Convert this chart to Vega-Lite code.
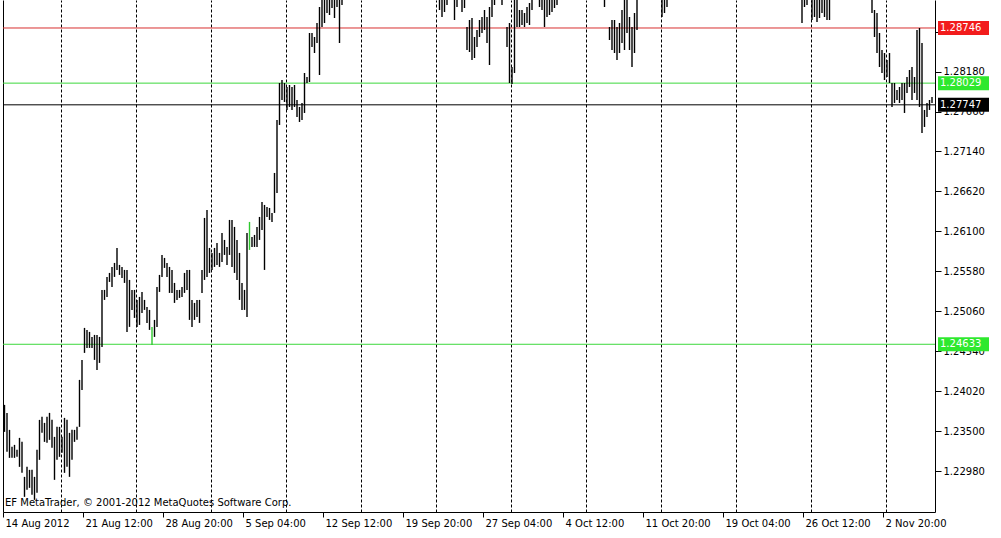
{
  "$schema": "https://vega.github.io/schema/vega-lite/v6.json",
  "width": 932,
  "height": 512,
  "autosize": {"type": "none"},
  "padding": {"left": 3, "top": 0, "right": 66, "bottom": 26},
  "background": "white",
  "config": {
    "view": {"stroke": null},
    "font": "DejaVu Sans",
    "axis": {"labelFont": "DejaVu Sans", "labelColor": "#000", "domainColor": "#000", "tickColor": "#000", "title": null}
  },
  "datasets": {
    "bars": [
      {"i":0,"hi":1.23845,"lo":1.23494},{"i":1,"hi":1.23741,"lo":1.23234},{"i":2,"hi":1.2352,"lo":1.23156},{"i":3,"hi":1.23299,"lo":1.23156},{"i":4,"hi":1.23325,"lo":1.23156},{"i":5,"hi":1.2326,"lo":1.23169},{"i":6,"hi":1.23416,"lo":1.23039},{"i":7,"hi":1.23364,"lo":1.22961},{"i":8,"hi":1.22909,"lo":1.22649},{"i":9,"hi":1.23039,"lo":1.2274},
      {"i":10,"hi":1.23,"lo":1.22766},{"i":11,"hi":1.23,"lo":1.22675},{"i":12,"hi":1.22909,"lo":1.2261},{"i":13,"hi":1.2326,"lo":1.22701},{"i":14,"hi":1.2365,"lo":1.2313},{"i":15,"hi":1.23689,"lo":1.23481},{"i":16,"hi":1.23611,"lo":1.23364},{"i":17,"hi":1.23689,"lo":1.23351},{"i":18,"hi":1.23741,"lo":1.2339},{"i":19,"hi":1.2365,"lo":1.23286},
      {"i":20,"hi":1.23429,"lo":1.2287},{"i":21,"hi":1.23559,"lo":1.2313},{"i":22,"hi":1.23559,"lo":1.23169},{"i":23,"hi":1.23429,"lo":1.23221},{"i":24,"hi":1.23676,"lo":1.22961},{"i":25,"hi":1.2365,"lo":1.23039},{"i":26,"hi":1.23481,"lo":1.22909},{"i":27,"hi":1.2352,"lo":1.2313},{"i":28,"hi":1.2352,"lo":1.23364},{"i":29,"hi":1.23559,"lo":1.2339},
      {"i":30,"hi":1.2417,"lo":1.23559},{"i":31,"hi":1.2443,"lo":1.2404},{"i":32,"hi":1.24846,"lo":1.24521},{"i":33,"hi":1.2482,"lo":1.24586},{"i":34,"hi":1.24794,"lo":1.24586},{"i":35,"hi":1.24729,"lo":1.24586},{"i":36,"hi":1.24755,"lo":1.2443},{"i":37,"hi":1.24755,"lo":1.243},{"i":38,"hi":1.24729,"lo":1.24391},{"i":39,"hi":1.2534,"lo":1.24599},
      {"i":40,"hi":1.2534,"lo":1.2521},{"i":41,"hi":1.25509,"lo":1.25249},{"i":42,"hi":1.25561,"lo":1.25444},{"i":43,"hi":1.25639,"lo":1.25379},{"i":44,"hi":1.25691,"lo":1.25509},{"i":45,"hi":1.25886,"lo":1.256},{"i":46,"hi":1.25665,"lo":1.25535},{"i":47,"hi":1.25639,"lo":1.25496},{"i":48,"hi":1.256,"lo":1.25431},{"i":49,"hi":1.256,"lo":1.24794},
      {"i":50,"hi":1.2547,"lo":1.24859},{"i":51,"hi":1.2534,"lo":1.2508},{"i":52,"hi":1.2534,"lo":1.24976},{"i":53,"hi":1.2521,"lo":1.24859},{"i":54,"hi":1.25249,"lo":1.24885},{"i":55,"hi":1.25314,"lo":1.25041},{"i":56,"hi":1.2521,"lo":1.2508},{"i":57,"hi":1.25119,"lo":1.24911},{"i":58,"hi":1.2508,"lo":1.2482},{"i":59,"hi":1.24859,"lo":1.24625,"doji":true},
      {"i":60,"hi":1.2495,"lo":1.24729},{"i":61,"hi":1.25379,"lo":1.24859},{"i":62,"hi":1.25535,"lo":1.25314},{"i":63,"hi":1.25795,"lo":1.25509},{"i":64,"hi":1.25756,"lo":1.25626},{"i":65,"hi":1.25691,"lo":1.25509},{"i":66,"hi":1.25639,"lo":1.25301},{"i":67,"hi":1.256,"lo":1.25301},{"i":68,"hi":1.25431,"lo":1.25171},{"i":69,"hi":1.2534,"lo":1.2521},
      {"i":70,"hi":1.2534,"lo":1.25236},{"i":71,"hi":1.25379,"lo":1.25249},{"i":72,"hi":1.25561,"lo":1.25301},{"i":73,"hi":1.256,"lo":1.2534},{"i":74,"hi":1.256,"lo":1.2495},{"i":75,"hi":1.2521,"lo":1.24859},{"i":76,"hi":1.25171,"lo":1.2495},{"i":77,"hi":1.2521,"lo":1.24989},{"i":78,"hi":1.2521,"lo":1.24911},{"i":79,"hi":1.256,"lo":1.25301},
      {"i":80,"hi":1.26276,"lo":1.2547},{"i":81,"hi":1.2638,"lo":1.25509},{"i":82,"hi":1.25886,"lo":1.25561},{"i":83,"hi":1.25821,"lo":1.256},{"i":84,"hi":1.25886,"lo":1.25639},{"i":85,"hi":1.25951,"lo":1.25665},{"i":86,"hi":1.25821,"lo":1.25639},{"i":87,"hi":1.26081,"lo":1.25704},{"i":88,"hi":1.2599,"lo":1.25795},{"i":89,"hi":1.25899,"lo":1.25665},
      {"i":90,"hi":1.2625,"lo":1.25795},{"i":91,"hi":1.2625,"lo":1.25639},{"i":92,"hi":1.26159,"lo":1.25561},{"i":93,"hi":1.2599,"lo":1.2547},{"i":94,"hi":1.25821,"lo":1.2521},{"i":95,"hi":1.25431,"lo":1.2508},{"i":96,"hi":1.2534,"lo":1.2508},{"i":97,"hi":1.26081,"lo":1.24989},{"i":98,"hi":1.26224,"lo":1.2586,"doji":true},{"i":99,"hi":1.26029,"lo":1.25899},
      {"i":100,"hi":1.26055,"lo":1.25899},{"i":101,"hi":1.26159,"lo":1.25899},{"i":102,"hi":1.26289,"lo":1.2599},{"i":103,"hi":1.26484,"lo":1.2612},{"i":104,"hi":1.26445,"lo":1.256},{"i":105,"hi":1.26419,"lo":1.26289},{"i":106,"hi":1.26406,"lo":1.2625},{"i":107,"hi":1.26341,"lo":1.26224},{"i":108,"hi":1.26861,"lo":1.26341},{"i":109,"hi":1.2755,"lo":1.26601},
      {"i":110,"hi":1.28031,"lo":1.27485},{"i":111,"hi":1.2807,"lo":1.2781},{"i":112,"hi":1.28031,"lo":1.27784},{"i":113,"hi":1.27979,"lo":1.2768},{"i":114,"hi":1.28005,"lo":1.27719},{"i":115,"hi":1.27979,"lo":1.2768},{"i":116,"hi":1.28005,"lo":1.27719},{"i":117,"hi":1.2781,"lo":1.27589},{"i":118,"hi":1.27719,"lo":1.27524},{"i":119,"hi":1.27771,"lo":1.2755},
      {"i":120,"hi":1.28161,"lo":1.27641},{"i":121,"hi":1.28109,"lo":1.28031},{"i":122,"hi":1.28681,"lo":1.28044},{"i":123,"hi":1.28681,"lo":1.28499},{"i":124,"hi":1.28629,"lo":1.28421},{"i":125,"hi":1.28811,"lo":1.28551},{"i":126,"hi":1.29019,"lo":1.28135},{"i":127,"hi":1.2922,"lo":1.28759},{"i":128,"hi":1.2921,"lo":1.28811},{"i":129,"hi":1.292,"lo":1.28941},
      {"i":130,"hi":1.2922,"lo":1.28915},{"i":131,"hi":1.2921,"lo":1.29006},{"i":132,"hi":1.2922,"lo":1.28876},{"i":133,"hi":1.292,"lo":1.29019},{"i":134,"hi":1.2921,"lo":1.28551},{"i":135,"hi":1.292,"lo":1.29045},
      {"i":174,"hi":1.2922,"lo":1.2898},{"i":175,"hi":1.2921,"lo":1.28889},{"i":176,"hi":1.2922,"lo":1.28954},{"i":177,"hi":1.292,"lo":1.29045},{"i":180,"hi":1.2922,"lo":1.2885},{"i":181,"hi":1.292,"lo":1.29019},{"i":183,"hi":1.2921,"lo":1.28954},{"i":184,"hi":1.292,"lo":1.29006},
      {"i":185,"hi":1.28759,"lo":1.2846},{"i":186,"hi":1.2885,"lo":1.28434},{"i":187,"hi":1.28876,"lo":1.2833},{"i":188,"hi":1.28629,"lo":1.28356},{"i":189,"hi":1.2872,"lo":1.28499},{"i":190,"hi":1.2885,"lo":1.28629},{"i":191,"hi":1.28889,"lo":1.28681},{"i":192,"hi":1.2898,"lo":1.2872},{"i":193,"hi":1.28889,"lo":1.28551},{"i":194,"hi":1.29019,"lo":1.28265},
      {"i":195,"hi":1.292,"lo":1.28889},{"i":196,"hi":1.292,"lo":1.29045},{"i":199,"hi":1.292,"lo":1.29045},{"i":201,"hi":1.28759,"lo":1.28499},{"i":202,"hi":1.28811,"lo":1.28031},{"i":203,"hi":1.28239,"lo":1.28018},{"i":204,"hi":1.29175,"lo":1.28161},
      {"i":205,"hi":1.292,"lo":1.28759},{"i":206,"hi":1.2898,"lo":1.28759},{"i":207,"hi":1.2898,"lo":1.28785},{"i":208,"hi":1.28941,"lo":1.28759},{"i":209,"hi":1.29019,"lo":1.28811},{"i":210,"hi":1.29071,"lo":1.28785},{"i":211,"hi":1.292,"lo":1.2898},
      {"i":214,"hi":1.292,"lo":1.29019},{"i":215,"hi":1.292,"lo":1.2898},{"i":216,"hi":1.292,"lo":1.28759},{"i":217,"hi":1.292,"lo":1.28889},{"i":218,"hi":1.292,"lo":1.28915},{"i":219,"hi":1.292,"lo":1.28954},{"i":220,"hi":1.292,"lo":1.29006},{"i":221,"hi":1.292,"lo":1.29045},
      {"i":240,"hi":1.292,"lo":1.29019},{"i":242,"hi":1.28759,"lo":1.2859},{"i":243,"hi":1.2885,"lo":1.2846},{"i":244,"hi":1.2885,"lo":1.28421},{"i":245,"hi":1.28759,"lo":1.2833},{"i":246,"hi":1.28811,"lo":1.28421},{"i":247,"hi":1.2898,"lo":1.28551},{"i":248,"hi":1.292,"lo":1.2846},{"i":249,"hi":1.292,"lo":1.28681},
      {"i":250,"hi":1.28889,"lo":1.2846},{"i":251,"hi":1.28759,"lo":1.28239},{"i":252,"hi":1.28941,"lo":1.28421},{"i":253,"hi":1.292,"lo":1.2872},{"i":263,"hi":1.292,"lo":1.28889},{"i":264,"hi":1.292,"lo":1.28941},{"i":265,"hi":1.292,"lo":1.29019},
      {"i":319,"hi":1.292,"lo":1.28811},{"i":320,"hi":1.292,"lo":1.29019},{"i":321,"hi":1.292,"lo":1.29045},{"i":323,"hi":1.292,"lo":1.2885},{"i":324,"hi":1.292,"lo":1.28889},{"i":325,"hi":1.292,"lo":1.28824},{"i":326,"hi":1.292,"lo":1.28876},{"i":327,"hi":1.292,"lo":1.28941},{"i":328,"hi":1.292,"lo":1.28889},{"i":329,"hi":1.292,"lo":1.2885},{"i":330,"hi":1.292,"lo":1.2885},
      {"i":347,"hi":1.292,"lo":1.28941},{"i":348,"hi":1.2898,"lo":1.28629},{"i":349,"hi":1.28941,"lo":1.28421},{"i":350,"hi":1.28681,"lo":1.28239},{"i":351,"hi":1.2846,"lo":1.28161},{"i":352,"hi":1.28421,"lo":1.2807},{"i":353,"hi":1.2833,"lo":1.28109},{"i":354,"hi":1.28421,"lo":1.28031},
      {"i":355,"hi":1.28031,"lo":1.27719},{"i":356,"hi":1.28031,"lo":1.27771},{"i":357,"hi":1.2794,"lo":1.2781},{"i":358,"hi":1.27979,"lo":1.27771},{"i":359,"hi":1.28031,"lo":1.2781},{"i":360,"hi":1.28031,"lo":1.27641},{"i":361,"hi":1.28109,"lo":1.27901},{"i":362,"hi":1.282,"lo":1.27979},{"i":363,"hi":1.28239,"lo":1.2781},{"i":364,"hi":1.28109,"lo":1.27901},
      {"i":365,"hi":1.2872,"lo":1.2781},{"i":366,"hi":1.28746,"lo":1.27719},{"i":367,"hi":1.28551,"lo":1.2738},{"i":368,"hi":1.2768,"lo":1.27459},{"i":369,"hi":1.27771,"lo":1.27589},{"i":370,"hi":1.2781,"lo":1.2768},{"i":371,"hi":1.27849,"lo":1.27771}
    ],
    "levels": [
      {"level": "Resistance", "price": 1.28746},
      {"level": "Support 1", "price": 1.28029},
      {"level": "Bid", "price": 1.27747},
      {"level": "Support 2", "price": 1.24633}
    ],
    "notes": [
      {"note": "EF MetaTrader, © 2001-2012 MetaQuotes Software Corp."}
    ]
  },
  "resolve": {"axis": {"x": "independent", "y": "independent"}, "scale": {"color": "independent"}},
  "layer": [
    {
      "data": {"name": "notes"},
      "mark": {"type": "text", "align": "left", "baseline": "middle", "fontSize": 10, "font": "DejaVu Sans", "color": "#000"},
      "encoding": {
        "x": {"datum": 0.2, "type": "quantitative", "scale": {"domain": [-0.6, 372.2], "nice": false, "zero": false},
          "axis": {"orient": "top", "values": [22.6, 52.6, 82.6, 112.6, 142.6, 172.6, 202.6, 232.6, 262.6, 292.6, 322.6, 352.6],
            "grid": true, "gridDash": [3, 2], "gridColor": "#000", "gridOpacity": 1, "gridWidth": 1,
            "labels": false, "ticks": false, "domain": false, "title": null}},
        "y": {"datum": 1.22569, "type": "quantitative", "scale": {"domain": [1.22452, 1.2911], "nice": false, "zero": false},
          "axis": {"orient": "left", "labels": false, "ticks": false, "grid": false, "domain": true, "domainColor": "#000", "domainWidth": 1, "title": null}},
        "text": {"field": "note"}
      }
    },
    {
      "data": {"name": "levels"},
      "mark": {"type": "rule", "strokeWidth": 1},
      "encoding": {
        "y": {"field": "price", "type": "quantitative", "axis": null},
        "color": {"field": "level", "type": "nominal", "legend": null,
          "scale": {"domain": ["Resistance", "Support 1", "Bid", "Support 2"], "range": ["#d93030", "#3cd83c", "#000000", "#3cd83c"]}}
      }
    },
    {
      "data": {"name": "bars"},
      "mark": {"type": "rule", "strokeWidth": 1.4, "clip": true},
      "encoding": {
        "x": {"field": "i", "type": "quantitative",
          "axis": {"orient": "bottom", "values": [-0.6, 31.4, 63.4, 95.4, 127.4, 159.4, 191.4, 223.4, 255.4, 287.4, 319.4, 351.4],
            "labelExpr": "['14 Aug 2012','21 Aug 12:00','28 Aug 20:00','5 Sep 04:00','12 Sep 12:00','19 Sep 20:00','27 Sep 04:00','4 Oct 12:00','11 Oct 20:00','19 Oct 04:00','26 Oct 12:00','2 Nov 20:00'][round((datum.value + 0.6) / 32)]",
            "labelAlign": "left", "labelBaseline": "top", "labelPadding": 1, "labelOffset": 2, "labelFontSize": 10,
            "labelOverlap": false, "labelFlush": false, "labelBound": false,
            "tickSize": 5, "grid": false, "domain": true, "title": null}},
        "y": {"field": "hi", "type": "quantitative",
          "axis": {"orient": "right", "values": [1.2298, 1.235, 1.2402, 1.2454, 1.2506, 1.2558, 1.261, 1.2662, 1.2714, 1.2766, 1.2818, 1.287],
            "format": ".5f", "labelFontSize": 10, "tickSize": 6, "labelPadding": 2, "grid": false, "domain": true, "title": null,
            "labelOverlap": false, "labelBound": false, "labelFlush": false}},
        "y2": {"field": "lo"},
        "color": {"condition": {"test": "datum.doji", "value": "#2fc82f"}, "value": "#000000"}
      }
    },
    {
      "data": {"name": "levels"},
      "mark": {"type": "rect", "xOffset": 3, "x2Offset": 54, "yOffset": -7, "y2Offset": 7},
      "encoding": {
        "x": {"value": "width"},
        "x2": {"value": "width"},
        "y": {"field": "price", "type": "quantitative", "axis": null},
        "y2": {"field": "price"},
        "color": {"field": "level", "type": "nominal", "legend": null,
          "scale": {"domain": ["Resistance", "Support 1", "Bid", "Support 2"], "range": ["#f21c1c", "#2ee82e", "#000000", "#2ee82e"]}}
      }
    },
    {
      "data": {"name": "levels"},
      "mark": {"type": "text", "align": "left", "baseline": "middle", "dx": 5, "fontSize": 10, "font": "DejaVu Sans", "color": "#ffffff"},
      "encoding": {
        "x": {"value": "width"},
        "y": {"field": "price", "type": "quantitative", "axis": null},
        "text": {"field": "price", "type": "quantitative", "format": ".5f"}
      }
    }
  ]
}
